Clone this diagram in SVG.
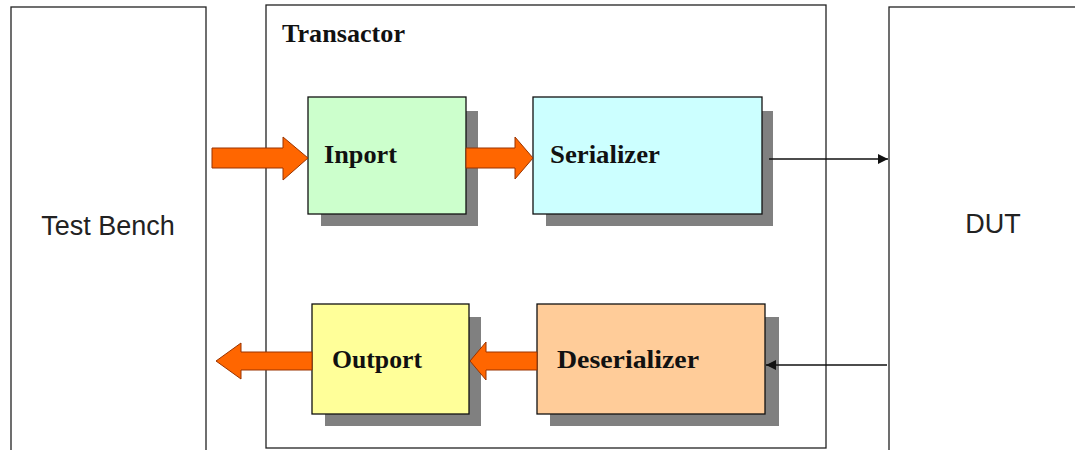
<svg xmlns="http://www.w3.org/2000/svg" width="1075" height="450" viewBox="0 0 1075 450">
  <defs>
    <style>
      .frame { fill: #ffffff; stroke: #222222; stroke-width: 1.3; }
      .shadow { fill: #808080; }
      .blk { stroke: #111111; stroke-width: 1.3; }
      .big { font-family: "Liberation Sans", Arial, sans-serif; font-size: 27px; fill: #222222; }
      .lbl { font-family: "Liberation Serif", "Times New Roman", serif; font-weight: bold; font-size: 24.5px; fill: #111111; }
      .fat { fill: #ff6600; stroke: #993300; stroke-width: 1; stroke-linejoin: miter; }
      .thin { stroke: #111111; stroke-width: 1.3; fill: none; }
    </style>
    <marker id="ah" viewBox="0 0 10 10" refX="10" refY="5" markerWidth="10" markerHeight="10" markerUnits="userSpaceOnUse" orient="auto">
      <path d="M0,0 L10,5 L0,10 Z" fill="#111111"/>
    </marker>
  </defs>
  <rect width="1075" height="450" fill="#ffffff"/>

  <g id="testbench">
    <rect class="frame" x="11" y="7" width="195" height="460"/>
    <text class="big" x="108" y="235" text-anchor="middle">Test Bench</text>
  </g>

  <g id="dut">
    <rect class="frame" x="889" y="7" width="200" height="460"/>
    <text class="big" x="993" y="233" text-anchor="middle">DUT</text>
  </g>

  <g id="transactor">
    <rect class="frame" x="266" y="5" width="560" height="443"/>
    <text class="lbl" x="282" y="42" textLength="123" lengthAdjust="spacingAndGlyphs">Transactor</text>
  </g>

  <g id="inport">
    <rect class="shadow" x="321" y="111" width="157" height="115"/>
    <rect class="blk" x="308" y="97" width="158" height="117" fill="#ccffcc"/>
    <text class="lbl" x="324" y="163" textLength="73" lengthAdjust="spacingAndGlyphs">Inport</text>
  </g>

  <g id="serializer">
    <rect class="shadow" x="546" y="111" width="227" height="115"/>
    <rect class="blk" x="533" y="97" width="229" height="117" fill="#ccffff"/>
    <text class="lbl" x="550" y="163" textLength="110" lengthAdjust="spacingAndGlyphs">Serializer</text>
  </g>

  <g id="outport">
    <rect class="shadow" x="325" y="317" width="156" height="109"/>
    <rect class="blk" x="312" y="304" width="157" height="110" fill="#ffff99"/>
    <text class="lbl" x="332" y="368" textLength="90" lengthAdjust="spacingAndGlyphs">Outport</text>
  </g>

  <g id="deserializer">
    <rect class="shadow" x="550" y="317" width="229" height="109"/>
    <rect class="blk" x="537" y="304" width="228" height="110" fill="#ffcc99"/>
    <text class="lbl" x="557" y="368" textLength="142" lengthAdjust="spacingAndGlyphs">Deserializer</text>
  </g>

  <g id="connectors">
    <polygon class="fat" points="212,148 283,148 283,137 308,158 283,180 283,168 212,168"/>
    <polygon class="fat" points="466,148 515,148 515,137 533,158 515,179 515,168 466,168"/>
    <polygon class="fat" points="537,352 486,352 486,342 470,361 486,380 486,370 537,370"/>
    <polygon class="fat" points="312,352 241,352 241,343 216,361 241,379 241,370 312,370"/>
    <line class="thin" x1="769" y1="159" x2="888" y2="159" marker-end="url(#ah)"/>
    <line class="thin" x1="887" y1="365" x2="766" y2="365" marker-end="url(#ah)"/>
  </g>
</svg>
